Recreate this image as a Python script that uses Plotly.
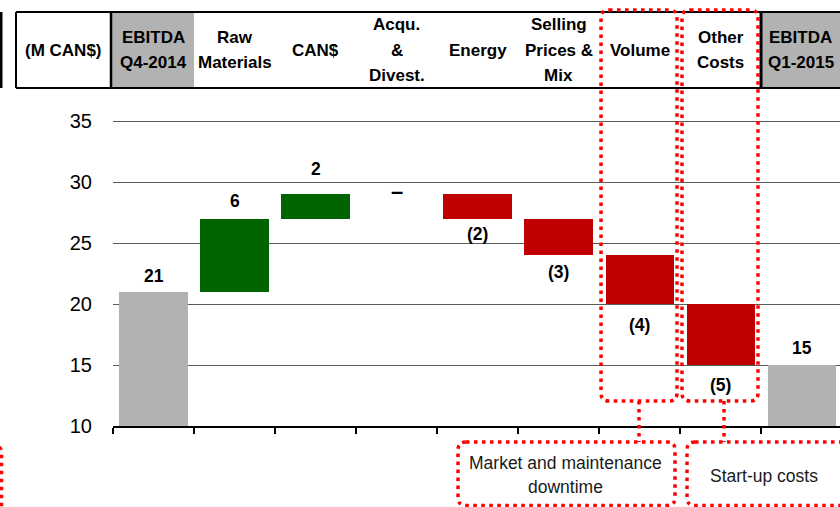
import plotly.graph_objects as go

# ---- data -------------------------------------------------------------
categories = ["EBITDA Q4-2014", "Raw Materials", "CAN$", "Acqu. & Divest.", "Energy",
              "Selling Prices & Mix", "Volume", "Other Costs", "EBITDA Q1-2015"]
header_labels = ["EBITDA<br>Q4-2014", "Raw<br>Materials", "CAN$", "Acqu.<br>&<br>Divest.",
                 "Energy", "Selling<br>Prices &<br>Mix", "Volume", "Other<br>Costs",
                 "EBITDA<br>Q1-2015"]
measures = ["total", "relative", "relative", "relative", "relative",
            "relative", "relative", "relative", "total"]
values = [21, 6, 2, 0, -2, -3, -4, -5, 15]
unit_label = "(M CAN$)"
y_ticks = [10, 15, 20, 25, 30, 35]
notes = ["Market and maintenance<br>downtime", "Start-up costs"]

# ---- styling ----------------------------------------------------------
GREY, GREEN, RED, DOT_RED = "#B2B2B2", "#006400", "#C00000", "#FF0000"
FONT = "Liberation Sans, Arial, sans-serif"
label_shift = [16, 18, 25, 3, -15, -17, -21, -20, 17]

W, H = 840, 507
L, T, B = 113, 97, 81           # plot-area margins (px)
PW, PH = W - L, H - T - B       # plot-area size (px)
X_RANGE = [-0.5, 8.475]
Y_RANGE = [10, 37]
COL = PW / (X_RANGE[1] - X_RANGE[0])   # px per category
LINE_GAP = 25.5                  # header line pitch (px)


def xp(px):
    """pixel x -> paper x"""
    return (px - L) / PW


def yp(py):
    """pixel y (from top) -> paper y"""
    return (H - B - py) / PH


def edge(i):
    """pixel x of the left boundary of category i"""
    return L + COL * i


def rounded_rect(x0, y0, x1, y1, r):
    X0, X1, Y0, Y1 = xp(x0), xp(x1), yp(y0), yp(y1)
    rx, ry = r / PW, r / PH
    return (f"M {X0 + rx},{Y0} L {X1 - rx},{Y0} Q {X1},{Y0} {X1},{Y0 - ry} "
            f"L {X1},{Y1 + ry} Q {X1},{Y1} {X1 - rx},{Y1} "
            f"L {X0 + rx},{Y1} Q {X0},{Y1} {X0},{Y1 + ry} "
            f"L {X0},{Y0 - ry} Q {X0},{Y0} {X0 + rx},{Y0} Z")


def text_block(text, cx, cy, pitch, font):
    """centre a multi-line text on (cx, cy) pixels with a fixed line pitch"""
    lines = text.split("<br>")
    out = []
    for k, line in enumerate(lines):
        y = cy + (k - (len(lines) - 1) / 2) * pitch
        out.append(dict(x=xp(cx), y=yp(y), xref="paper", yref="paper", text=line,
                        showarrow=False, xanchor="center", yanchor="middle", font=font))
    return out


# ---- waterfall geometry -----------------------------------------------
bases, heights, colors, ends, labels = [], [], [], [], []
running = 0
for m, v in zip(measures, values):
    if m == "total":
        running = v
        bases.append(0)
        heights.append(v)
        colors.append(GREY)
        labels.append(str(v))
    else:
        bases.append(running + min(v, 0))
        heights.append(abs(v))
        colors.append(GREEN if v > 0 else RED)
        running += v
        labels.append(str(v) if v > 0 else (f"({-v})" if v < 0 else "–"))
    ends.append(running)

xs = list(range(len(categories)))

fig = go.Figure(go.Bar(
    x=xs, y=heights, base=bases, width=0.84,
    marker=dict(color=colors, line=dict(width=0)),
    hovertext=categories, hoverinfo="text",
))

bold17 = dict(family=FONT, size=17, color="black", weight="bold")
label_font = dict(family=FONT, size=17.5, color="black", weight="bold")
annotations = []
for i, (lab, yv, s) in enumerate(zip(labels, ends, label_shift)):
    annotations.append(dict(
        x=i, y=yv, xref="x", yref="y", text=lab, showarrow=False,
        xanchor="center", yanchor="middle", yshift=s,
        font=dict(label_font, size=22) if lab == "–" else label_font,
    ))

# ---- header row -------------------------------------------------------
HT, HB = 12, 88
hy = (HT + HB) / 2
shapes = []
# partial element at far left
shapes.append(dict(type="rect", xref="paper", yref="paper",
                   x0=xp(-2), x1=xp(2.5), y0=yp(HT), y1=yp(HB),
                   fillcolor="black", line=dict(width=0), layer="above"))
# grey total cells
shapes.append(dict(type="rect", xref="paper", yref="paper",
                   x0=xp(edge(0) - 2), x1=xp(edge(1)), y0=yp(HT), y1=yp(HB),
                   fillcolor=GREY, line=dict(width=0), layer="above"))
shapes.append(dict(type="rect", xref="paper", yref="paper",
                   x0=xp(edge(8)), x1=xp(W + 5), y0=yp(HT), y1=yp(HB),
                   fillcolor=GREY, line=dict(width=0), layer="above"))
# table rules
for (x0, y0, x1, y1, w) in [(16, HT, W + 5, HT, 2), (16, HB, W + 5, HB, 2.2),
                            (16, HT, 16, HB, 2), (edge(0) - 2, HT, edge(0) - 2, HB, 2.5),
                            (edge(8), HT, edge(8), HB, 3)]:
    shapes.append(dict(type="line", xref="paper", yref="paper",
                       x0=xp(x0), x1=xp(x1), y0=yp(y0), y1=yp(y1),
                       line=dict(color="black", width=w), layer="above"))

annotations += text_block(unit_label, 63, hy, LINE_GAP, bold17)
for i, lab in enumerate(header_labels):
    cx = edge(i) + COL / 2
    if i == len(header_labels) - 1:
        cx = (edge(i) + W) / 2
    annotations += text_block(lab, cx, hy, LINE_GAP, bold17)

# ---- dotted call-outs -------------------------------------------------
dot = dict(color=DOT_RED, width=3.5, dash="3.5px,4.5px")
BOX_TOP, BOX_BOT = 10, 401
NOTE_TOP, NOTE_BOT = 442, 505.5
vol_box = (edge(6) + 2, edge(7) - 3)
oth_box = (edge(7) + 2, edge(8) - 3)
for (x0, x1) in (vol_box, oth_box):
    shapes.append(dict(type="path", xref="paper", yref="paper",
                       path=rounded_rect(x0, BOX_TOP, x1, BOX_BOT, 8), line=dot, layer="above"))
# connectors to the note boxes
for cx in ((vol_box[0] + vol_box[1]) / 2, oth_box[0] + 42):
    shapes.append(dict(type="line", xref="paper", yref="paper",
                       x0=xp(cx), x1=xp(cx), y0=yp(BOX_BOT), y1=yp(NOTE_TOP),
                       line=dot, layer="above"))
note_boxes = [(edge(4) + 21, edge(7) - 5), (edge(7) + 7, W + 12)]
for (x0, x1) in note_boxes:
    shapes.append(dict(type="path", xref="paper", yref="paper",
                       path=rounded_rect(x0, NOTE_TOP, x1, NOTE_BOT, 8), line=dot, layer="above"))
# box continuing off the left edge
shapes.append(dict(type="path", xref="paper", yref="paper",
                   path=rounded_rect(-200, 445, 1.5, 530, 8), line=dot, layer="above"))

note_font = dict(family=FONT, size=17.5, color="#1a1a1a")
annotations += text_block(notes[0], (note_boxes[0][0] + note_boxes[0][1]) / 2 - 1, 475, 24,
                          note_font)
annotations += text_block(notes[1], 764, 476, 24, note_font)

fig.update_layout(
    width=W, height=H,
    margin=dict(l=L, r=0, t=T, b=B, pad=0),
    plot_bgcolor="white", paper_bgcolor="white",
    showlegend=False, bargap=0,
    shapes=shapes, annotations=annotations,
    xaxis=dict(range=X_RANGE, showgrid=False, zeroline=False, showline=True,
               linecolor="black", linewidth=2, ticks="outside", ticklen=6,
               tickwidth=1.5, tickcolor="black",
               tickvals=[i - 0.5 for i in range(len(categories) + 1)],
               showticklabels=False),
    yaxis=dict(range=Y_RANGE, tickvals=y_ticks, showgrid=True, gridcolor="#5a5a5a",
               gridwidth=1, zeroline=False, showline=False, ticks="",
               ticklabelstandoff=20,
               tickfont=dict(family=FONT, size=20, color="black")),
)

fig.write_html("out.html")
